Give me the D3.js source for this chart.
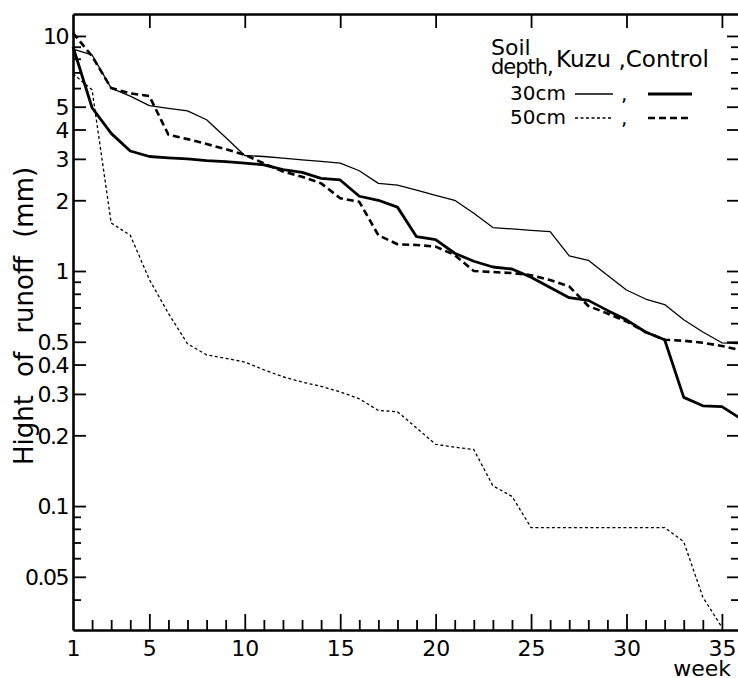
<!DOCTYPE html>
<html>
<head>
<meta charset="utf-8">
<script src="https://cdn.jsdelivr.net/npm/d3@7"></script>
<style>
  html, body { margin: 0; padding: 0; background: #fff; }
  svg { display: block; font-family: "DejaVu Sans", sans-serif; }
  .domain { stroke: #000; stroke-width: 2.6; }
  .tick line { stroke: #000; stroke-width: 1.8; }
  .tick text { fill: #000; }
</style>
</head>
<body>
<div id="chart"></div>
<script>
// Runoff height per week, Kuzu vs Control, two soil depths (log scale)

// x categories
const weeks = [1, 2, 3, 4, 5, 6, 7, 8, 9, 10, 11, 12, 13, 14, 15, 16, 17, 18,
  19, 20, 21, 22, 23, 24, 25, 26, 27, 28, 29, 30, 31, 32, 33, 34, 35, 36];

// series values (mm)
const kuzu30 = [8.8, 8.3, 6.0, 5.55, 5.05, 4.92, 4.8, 4.4, 3.7, 3.1, 3.07, 3.02,
  2.97, 2.93, 2.88, 2.67, 2.36, 2.32, 2.21, 2.1, 2.0, 1.76, 1.53, 1.51,
  1.49, 1.47, 1.16, 1.11, 0.96, 0.83, 0.76, 0.72, 0.62, 0.55, 0.495, 0.49];
const control30 = [9.0, 4.95, 3.85, 3.24, 3.07, 3.03, 3.0, 2.95, 2.92, 2.88, 2.83, 2.7,
  2.63, 2.48, 2.44, 2.08, 2.0, 1.87, 1.4, 1.36, 1.19, 1.1, 1.04, 1.02,
  0.94, 0.85, 0.77, 0.75, 0.68, 0.62, 0.55, 0.51, 0.29, 0.267, 0.265, 0.235];
const kuzu50 = [6.9, 5.9, 1.6, 1.42, 0.92, 0.66, 0.49, 0.44, 0.425, 0.41, 0.38, 0.355,
  0.337, 0.323, 0.306, 0.286, 0.255, 0.252, 0.215, 0.183, 0.178, 0.174, 0.122, 0.11,
  0.081, 0.081, 0.081, 0.081, 0.081, 0.081, 0.081, 0.081, 0.0705, 0.041, 0.0305];
const control50 = [10.3, 8.2, 6.0, 5.7, 5.55, 3.8, 3.64, 3.47, 3.3, 3.12, 2.87, 2.65,
  2.52, 2.36, 2.04, 1.97, 1.42, 1.3, 1.29, 1.27, 1.17, 1.0, 0.99, 0.98,
  0.96, 0.915, 0.86, 0.71, 0.66, 0.61, 0.55, 0.51, 0.505, 0.495, 0.48, 0.46];

// tick values
const yLabelTicks = [10, 5, 4, 3, 2, 1, 0.5, 0.4, 0.3, 0.2, 0.1, 0.05];
const yMinorTicks = [9, 8, 7, 6, 0.9, 0.8, 0.7, 0.6, 0.09, 0.08, 0.07, 0.06, 0.04];
const xLabelTicks = [1, 5, 10, 15, 20, 25, 30, 35];
const xMajorTicks = [5, 10, 15, 20, 25, 30, 35];
const xMinorTicks = weeks.filter(w => w > 1 && w % 5 !== 0);

(function() {
  "use strict";

  const width = 738, height = 678;
  const left = 73, right = 741, top = 14, bottom = 630;

  const svg = d3.select("#chart").append("svg")
      .attr("width", width)
      .attr("height", height);

  // scales: linear weeks, log runoff
  const x = d3.scaleLinear().domain([1, 36]).range([left, right]);
  const y = d3.scaleLog().domain([0.0297, 12.4]).range([bottom, top]);

  // left axis, ticks pointing inward
  svg.append("g")
      .attr("transform", `translate(${left},0)`)
      .call(d3.axisLeft(y).tickValues(yLabelTicks).tickSizeInner(-13).tickSizeOuter(0)
        .tickPadding(5).tickFormat(d => String(d)))
      .call(g => g.selectAll("text")
        .attr("font-size", 22).attr("font-family", "DejaVu Sans")
        .attr("letter-spacing", -1.5).attr("dy", "0.36em"));
  svg.append("g")
      .attr("transform", `translate(${left},0)`)
      .call(d3.axisLeft(y).tickValues(yMinorTicks).tickSizeInner(-8).tickSizeOuter(0).tickFormat(""))
      .call(g => g.select(".domain").remove());

  // right axis (mirror ticks, no labels)
  svg.append("g")
      .attr("transform", `translate(${right},0)`)
      .call(d3.axisRight(y).tickValues(yLabelTicks).tickSizeInner(-14).tickSizeOuter(0).tickFormat(""));
  svg.append("g")
      .attr("transform", `translate(${right},0)`)
      .call(d3.axisRight(y).tickValues(yMinorTicks).tickSizeInner(-10).tickSizeOuter(0).tickFormat(""))
      .call(g => g.select(".domain").remove());

  // bottom axis
  svg.append("g")
      .attr("transform", `translate(0,${bottom})`)
      .call(d3.axisBottom(x).tickValues(xLabelTicks).tickSizeInner(-16).tickSizeOuter(0).tickPadding(10))
      .call(g => g.selectAll("text").attr("font-size", 22).attr("font-family", "DejaVu Sans"))
      .call(g => g.selectAll(".tick line").filter(d => d === 1).remove());
  svg.append("g")
      .attr("transform", `translate(0,${bottom})`)
      .call(d3.axisBottom(x).tickValues(xMinorTicks).tickSizeInner(-10).tickSizeOuter(0).tickFormat(""))
      .call(g => g.select(".domain").remove());

  // top frame with ticks every 5 weeks
  svg.append("g")
      .attr("transform", `translate(0,${top})`)
      .call(d3.axisTop(x).tickValues(xMajorTicks).tickSizeInner(-14).tickSizeOuter(0).tickFormat(""))
      .call(g => g.select(".domain").attr("stroke-width", 2));

  // axis titles
  svg.append("text")
      .attr("transform", `translate(33,316) rotate(-90)`)
      .attr("text-anchor", "middle")
      .attr("font-size", 26)
      .attr("word-spacing", 10)
      .text("Hight of runoff (mm)");
  svg.append("text")
      .attr("x", 731).attr("y", 676)
      .attr("text-anchor", "end")
      .attr("font-size", 22)
      .text("week");

  // series styles
  const series = [
    {name: "Kuzu 30cm", values: kuzu30, width: 1.3, dash: null},
    {name: "Control 30cm", values: control30, width: 2.8, dash: null},
    {name: "Kuzu 50cm", values: kuzu50, width: 1.3, dash: "3,2.5"},
    {name: "Control 50cm", values: control50, width: 2.6, dash: "7,4"}
  ];

  const line = d3.line()
      .x(d => x(d[0]))
      .y(d => y(d[1]));

  const plot = svg.append("g");
  series.forEach(s => {
    plot.append("path")
        .datum(s.values.map((v, i) => [weeks[i], v]))
        .attr("fill", "none")
        .attr("stroke", "#000")
        .attr("stroke-width", s.width)
        .attr("stroke-linejoin", "round")
        .attr("stroke-dasharray", s.dash)
        .attr("d", line);
  });

  // legend
  const legend = svg.append("g").attr("fill", "#000");
  legend.append("text").attr("x", 491).attr("y", 55).attr("font-size", 22).text("Soil");
  legend.append("text").attr("x", 491).attr("y", 74).attr("font-size", 21)
      .attr("letter-spacing", -1).text("depth,");
  legend.append("text").attr("x", 556).attr("y", 67).attr("font-size", 23).text("Kuzu ,Control");

  const rows = [
    {label: "30cm", y: 100, kuzu: series[0], control: series[1]},
    {label: "50cm", y: 124, kuzu: series[2], control: series[3]}
  ];
  rows.forEach(r => {
    legend.append("text").attr("x", 510).attr("y", r.y).attr("font-size", 20).text(r.label);
    legend.append("text").attr("x", 621).attr("y", r.y + 1).attr("font-size", 20).text(",");
    [[575, 613, r.kuzu], [648, 692, r.control]].forEach(([x0, x1, s]) => {
      legend.append("line")
          .attr("x1", x0).attr("x2", x1)
          .attr("y1", r.y - 6).attr("y2", r.y - 6)
          .attr("stroke", "#000")
          .attr("stroke-width", s.width)
          .attr("stroke-dasharray", s.dash);
    });
  });
})();
</script>
</body>
</html>
